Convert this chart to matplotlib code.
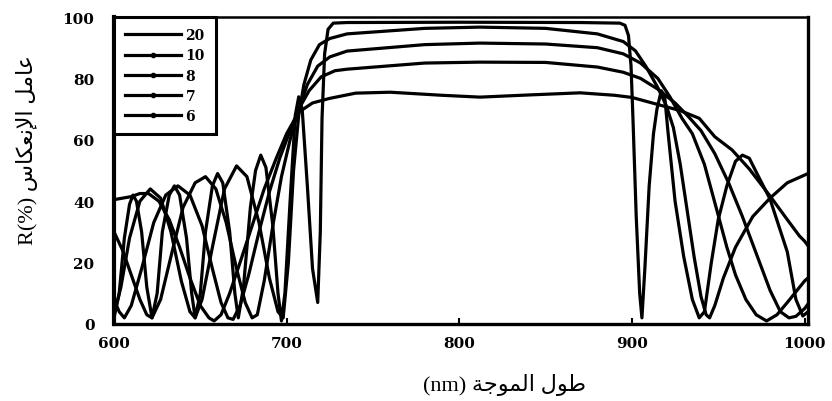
import matplotlib
matplotlib.use("Agg")
import matplotlib.pyplot as plt
from matplotlib.lines import Line2D

# Reflectance spectra of the multilayer mirror for different numbers of layer pairs
wl_20 = [600, 603, 606, 609, 611, 613, 616, 619, 622, 625, 628, 632, 635, 638, 642, 645, 647,
         650, 653, 657, 660, 663, 667, 670, 672, 675, 679, 682, 685, 688, 692, 695, 697, 699,
         702, 705, 707, 709, 712, 715, 718, 719.5, 720.5, 722, 724, 727, 735, 800, 870, 893,
         896, 898, 899.5, 900.6, 902.5, 904.5, 905.8, 907.5, 910, 912.5, 914.5, 917, 919, 921,
         925, 930, 935, 939, 942, 946, 950, 955, 960, 964, 968, 972, 980, 990, 995, 999, 1002]
r_20 = [2, 10, 28, 39, 42, 40, 30, 12, 2, 10, 30, 42, 45, 42, 28, 10, 2,
        10, 30, 45, 49, 46, 30, 10, 2, 12, 38, 50, 55, 51, 32, 10, 1, 10,
        40, 68, 74, 70, 45, 18, 7, 30, 67, 88, 96, 98.0, 98.2, 98.3, 98.2, 98.0,
        97.3, 94, 84, 67, 35, 10, 2, 18, 45, 62, 70, 76, 74, 62,
        40, 22, 8, 2, 4, 20, 34, 45, 53, 55, 54, 49.5, 40.7, 23.5, 8, 2.6, 4]

wl_10 = [600, 604, 609, 615, 621, 627, 633, 639, 644, 647, 651, 657, 664, 671, 677, 684, 690,
         695, 698, 701, 704, 707, 710, 714, 719, 725, 735, 780, 812, 850, 880, 895, 902, 908,
         915, 920, 924, 928, 932, 936, 940, 943, 945, 948, 953, 960, 970, 980, 990, 1000, 1002]
r_10 = [3, 12, 28, 40, 44, 41, 30, 14, 4, 2, 8, 25, 44, 51.5, 48, 33, 15,
        4, 2, 20, 50, 68, 78, 86, 91, 93, 94.5, 96.3, 96.7, 96.3, 94.5, 92, 89, 84,
        77, 71, 64, 52, 37, 22, 9, 3, 2, 6, 15, 25, 35, 41, 46, 48.5, 49]

wl_8 = [600, 605, 610, 615, 619, 622, 627, 633, 640, 647, 653, 659, 665, 671, 676, 680, 683,
        687, 692, 697, 702, 707, 712, 718, 725, 735, 780, 812, 850, 880, 895, 905, 915, 922,
        929, 935, 942, 949, 955, 960, 966, 972, 978, 984, 990, 1000, 1002]
r_8 = [30, 24, 16, 8, 3, 2, 8, 22, 38, 46, 48, 44, 33, 18, 7, 2, 3,
       14, 32, 48, 60, 70, 78, 84, 87, 88.9, 91, 91.5, 91.2, 90, 88, 85, 80, 74,
       67, 62, 52, 37.5, 25, 16, 8, 3, 1, 3, 7, 14, 15]

wl_7 = [600, 603, 606, 610, 616, 623, 630, 637, 644, 651, 657, 662, 666, 669, 673, 678, 684,
        690, 696, 702, 707, 713, 720, 728, 735, 780, 812, 850, 880, 895, 905, 915, 925, 932,
        940, 948, 956, 964, 972, 980, 986, 991, 995, 1000, 1002]
r_7 = [8, 4, 2, 6, 18, 33, 42, 45, 42, 32, 18, 7, 2, 1.5, 6, 16, 30,
       43, 54, 63, 70, 76, 80.5, 82.5, 83, 85, 85.3, 85.2, 83.7, 82, 80, 76.5, 72, 68,
       63, 55.5, 46, 35, 23, 11, 4, 2, 2.5, 5, 6.5]

wl_6 = [600, 605, 610, 615, 620, 626, 632, 638, 644, 650, 655, 658, 662, 667, 673, 680, 687,
        694, 700, 707, 715, 725, 740, 760, 790, 812, 840, 870, 890, 900, 915, 928, 939, 948,
        958, 968, 980, 990, 997, 1000, 1002]
r_6 = [40.5, 41, 41.5, 42.5, 42.5, 40, 34, 25, 15, 6, 2, 1, 3, 10, 20, 32, 44,
       54, 62, 69, 72, 73.5, 75.2, 75.5, 74.5, 73.9, 74.6, 75.3, 74.5, 73.8, 71.5, 69.5, 67, 61,
       56.7, 50.5, 41.7, 34, 28.7, 27, 25.5]

series_labels = ["20", "10", "8", "7", "6"]
x_ticks = [600, 700, 800, 900, 1000]
y_ticks = [0, 20, 40, 60, 80, 100]

fig = plt.figure(figsize=(8.32, 4.02), dpi=100)
ax = fig.add_axes([114 / 832, 77 / 402, 694 / 832, 307 / 402])

curves = [(wl_20, r_20), (wl_10, r_10), (wl_8, r_8), (wl_7, r_7), (wl_6, r_6)]
for wl, r in curves:
    ax.plot(wl, r, color="black", lw=2.3, solid_joinstyle="round", solid_capstyle="round")

ax.set_xlim(600, 1002)
ax.set_ylim(0, 100)
ax.set_xticks(x_ticks)
ax.set_yticks(y_ticks)

tick_font = dict(family="DejaVu Serif", weight="bold", size=11)
ax.set_xticklabels([str(t) for t in x_ticks], **tick_font)
ax.set_yticklabels([str(t) for t in y_ticks], **tick_font)
ax.tick_params(axis="x", direction="in", length=4, width=1.5, pad=9)
ax.tick_params(axis="y", direction="in", length=0, pad=14)

for side, w in [("left", 3.0), ("bottom", 2.4), ("top", 1.8), ("right", 2.4)]:
    ax.spines[side].set_linewidth(w)

# Axis titles (Arabic written in presentation forms, laid out left to right)
label_font = ["Liberation Serif", "DejaVu Sans"]
ylab = "R(%) " + "\uFEB1\uFE8E\uFEDC\uFECC\uFEE7\uFEF9\uFE8D" + " " + "\uFEDE\uFEE3\uFE8E\uFECB"
xlab = "(nm) " + "\uFE94\uFE9F\uFEEE\uFEE4\uFEDF\uFE8D" + " " + "\uFEDD\uFEEE\uFEC3"
ax.set_ylabel(ylab, family=label_font, size=16)
ax.set_xlabel(xlab, family=label_font, size=16)
ax.yaxis.set_label_coords(-0.110, 0.57)
ax.xaxis.set_label_coords(0.563, -0.16)

# Legend
markers = [None, "o", "o", "o", "o"]
handles = [Line2D([], [], color="black", lw=2.3, marker=m, markersize=3) for m in markers]
leg = ax.legend(handles, series_labels, loc="upper left", bbox_to_anchor=(0.0, 1.0),
                borderaxespad=0.0, frameon=True, fancybox=False, edgecolor="black",
                handlelength=4.0, handletextpad=0.35, labelspacing=0.45, borderpad=0.8,
                numpoints=1, prop=dict(family="DejaVu Serif", weight="bold", size=10))
leg.get_frame().set_linewidth(2.2)
leg.get_frame().set_alpha(1)

fig.savefig("out.png", dpi=100)
